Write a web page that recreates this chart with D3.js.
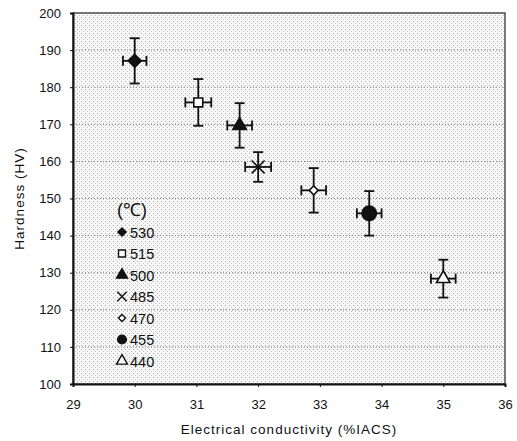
<!DOCTYPE html>
<html>
<head>
<meta charset="utf-8">
<script src="https://cdn.jsdelivr.net/npm/d3@7"></script>
<style>
  body { margin: 0; background: #fff; }
  text { font-family: 'Liberation Sans', Arial, sans-serif; fill: #111; }
</style>
</head>
<body>
<div id="chart"></div>
<script>
// aging temperature (°C) per point
const temps = ['530', '515', '500', '485', '470', '455', '440']
const conductivity = [30.0, 31.03, 31.7, 32.0, 32.9, 33.8, 35.0]
const condErr = [0.19, 0.21, 0.2, 0.21, 0.2, 0.2, 0.2]
const hardness = [187.1, 175.9, 169.7, 158.5, 152.2, 146.0, 128.4]
const hardErr = [6.1, 6.3, 6.0, 4.0, 6.0, 6.0, 5.1]
const xTicks = [29, 30, 31, 32, 33, 34, 35, 36]
const yTicks = [100, 110, 120, 130, 140, 150, 160, 170, 180, 190, 200]

const width = 517
const height = 441
const margin = { top: 13, right: 12, bottom: 57, left: 73 }
const iw = width - margin.left - margin.right
const ih = height - margin.top - margin.bottom

const x = d3.scaleLinear().domain([29, 36]).range([0, iw])
const y = d3.scaleLinear().domain([100, 200]).range([ih, 0])

// marker per series: [symbol, filled, size, rotate]
const markers = [
  [d3.symbolSquare, true, 85, 45],
  [d3.symbolSquare, false, 80, 0],
  [d3.symbolTriangle, true, 80, 0],
  [d3.symbolTimes, false, 110, 0],
  [d3.symbolSquare, false, 40, 45],
  [d3.symbolCircle, true, 165, 0],
  [d3.symbolTriangle, false, 80, 0],
]
const legendSize = [34, 48, 52, 60, 26, 60, 52]
const fillOf = i => markers[i][1] ? '#111' : (markers[i][0] === d3.symbolTimes ? 'none' : '#fff')

const svg = d3.select('#chart').append('svg')
  .attr('width', width).attr('height', height)

const defs = svg.append('defs')
const pat = defs.append('pattern')
  .attr('id', 'dots').attr('width', 4).attr('height', 4)
  .attr('patternUnits', 'userSpaceOnUse')
pat.append('rect').attr('width', 4).attr('height', 4).attr('fill', '#f7f7f7')
pat.append('rect').attr('x', 0).attr('y', 0).attr('width', 1).attr('height', 1).attr('fill', '#a8a8a8')
pat.append('rect').attr('x', 2).attr('y', 2).attr('width', 1).attr('height', 1).attr('fill', '#c4c4c4')

const g = svg.append('g').attr('transform', `translate(${margin.left},${margin.top})`)

g.append('rect').attr('width', iw).attr('height', ih).attr('fill', 'url(#dots)')

// horizontal dotted grid
g.selectAll('.grid').data(yTicks.slice(1, -1)).enter().append('line')
  .attr('x1', 0).attr('x2', iw)
  .attr('y1', d => y(d)).attr('y2', d => y(d))
  .attr('stroke', '#777').attr('stroke-width', 1).attr('stroke-dasharray', '1,2')

// frame: top & right thin, left & bottom heavy
g.append('rect').attr('width', iw).attr('height', ih)
  .attr('fill', 'none').attr('stroke', '#333').attr('stroke-width', 1.3)

const yAxis = g.append('g')
  .call(d3.axisLeft(y).tickValues(yTicks).tickSize(3).tickPadding(9))
const xAxis = g.append('g').attr('transform', `translate(0,${ih})`)
  .call(d3.axisBottom(x).tickValues(xTicks).tickFormat(d3.format('d')).tickSize(3).tickPadding(13))
;[yAxis, xAxis].forEach(a => {
  a.select('.domain').attr('stroke', '#111').attr('stroke-width', 2)
  a.selectAll('line').attr('stroke', '#111')
  a.selectAll('text').attr('font-size', 13).attr('fill', '#111')
})

svg.append('text')
  .attr('x', margin.left + iw / 2).attr('y', 434)
  .attr('text-anchor', 'middle').attr('font-size', 13.5).attr('letter-spacing', 1)
  .text('Electrical conductivity (%IACS)')

svg.append('text')
  .attr('transform', `translate(24,${margin.top + ih / 2}) rotate(-90)`)
  .attr('text-anchor', 'middle').attr('font-size', 13.5).attr('letter-spacing', 1)
  .text('Hardness (HV)')

// error bars
const eb = g.selectAll('.eb').data(temps).enter().append('g')
  .attr('stroke', '#111').attr('stroke-width', 1.8)
eb.append('line')
  .attr('x1', (d, i) => x(conductivity[i])).attr('x2', (d, i) => x(conductivity[i]))
  .attr('y1', (d, i) => y(hardness[i] + hardErr[i])).attr('y2', (d, i) => y(hardness[i] - hardErr[i]))
eb.append('line')
  .attr('x1', (d, i) => x(conductivity[i] - condErr[i])).attr('x2', (d, i) => x(conductivity[i] + condErr[i]))
  .attr('y1', (d, i) => y(hardness[i])).attr('y2', (d, i) => y(hardness[i]))
;[1, -1].forEach(s => {
  eb.append('line')
    .attr('x1', (d, i) => x(conductivity[i]) - 5).attr('x2', (d, i) => x(conductivity[i]) + 5)
    .attr('y1', (d, i) => y(hardness[i] + s * hardErr[i])).attr('y2', (d, i) => y(hardness[i] + s * hardErr[i]))
  eb.append('line')
    .attr('x1', (d, i) => x(conductivity[i] + s * condErr[i])).attr('x2', (d, i) => x(conductivity[i] + s * condErr[i]))
    .attr('y1', (d, i) => y(hardness[i]) - 5).attr('y2', (d, i) => y(hardness[i]) + 5)
})

// markers
g.selectAll('.pt').data(temps).enter().append('path')
  .attr('transform', (d, i) => `translate(${x(conductivity[i])},${y(hardness[i])}) rotate(${markers[i][3]})`)
  .attr('d', (d, i) => d3.symbol(markers[i][0], markers[i][2])())
  .attr('fill', (d, i) => fillOf(i))
  .attr('stroke', '#111').attr('stroke-width', 1.6)

// legend
const lg = svg.append('g').attr('transform', 'translate(122,210)')
lg.append('text').attr('x', -5).attr('y', 6).attr('font-size', 18).text('(℃)')
const items = lg.selectAll('.it').data(temps).enter().append('g')
  .attr('transform', (d, i) => `translate(0,${22 + i * 21.5})`)
items.append('path')
  .attr('transform', (d, i) => `rotate(${markers[i][3]})`)
  .attr('d', (d, i) => d3.symbol(markers[i][0], legendSize[i])())
  .attr('fill', (d, i) => fillOf(i))
  .attr('stroke', '#111').attr('stroke-width', 1.4)
items.append('text').attr('x', 8).attr('y', 5.5).attr('font-size', 14.5).text(d => d)
</script>
</body>
</html>
